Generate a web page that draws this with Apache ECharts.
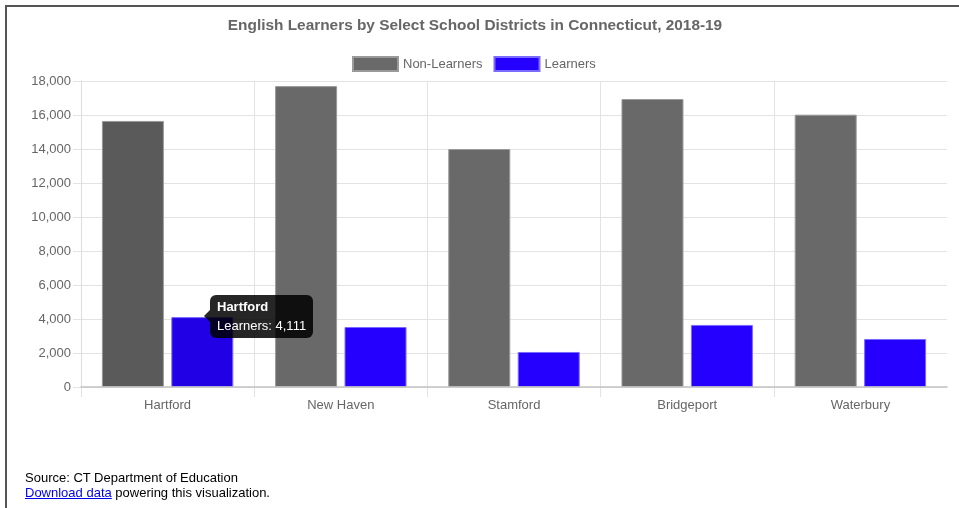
<!DOCTYPE html>
<html>
<head>
<meta charset="utf-8">
<script src="https://cdn.jsdelivr.net/npm/echarts@6/dist/echarts.min.js"></script>
<style>
  html, body { margin: 0; padding: 0; background: #fff; }
  body { width: 959px; height: 508px; position: relative; overflow: hidden; font-family: "Liberation Sans", Arial, Helvetica, sans-serif; }
  #chart { position: absolute; left: 0; top: 0; width: 959px; height: 508px; }
  #frame { position: absolute; left: 5px; top: 5px; width: 960px; height: 510px; border-top: 2px solid #555; border-left: 2px solid #555; pointer-events: none; }
  #source { position: absolute; left: 25px; top: 470px; font-size: 13px; line-height: 15px; color: #000; }
  #source a { color: #0000ee; text-decoration: underline; }
</style>
</head>
<body>
<div id="chart"></div>
<div id="frame"></div>
<div id="source">Source: CT Department of Education<br><a href="#">Download data</a> powering this visualization.</div>
<script>
const titleText = 'English Learners by Select School Districts in Connecticut, 2018-19';
const categories = ['Hartford', 'New Haven', 'Stamford', 'Bridgeport', 'Waterbury'];
const seriesNames = ['Non-Learners', 'Learners'];
const nonLearners = [15650, 17700, 14000, 16940, 16020];
const learners = [4111, 3530, 2060, 3650, 2825];
const yTicks = [0, 2000, 4000, 6000, 8000, 10000, 12000, 14000, 16000, 18000];

const FONT = '"Liberation Sans", Arial, Helvetica, sans-serif';
const fmt = v => String(v).replace(/\B(?=(\d{3})+(?!\d))/g, ',');

const chart = echarts.init(document.getElementById('chart'), null, { renderer: 'canvas' });

const grayColor = '#696969', grayHover = '#5a5a5a';
const blueColor = '#2600ff', blueHover = '#2200e6';
const gridColor = '#e3e3e3';

// helper boundary positions (one per category edge) used only for the vertical grid lines
const boundaries = categories.concat(['']);
const notLast = i => i < boundaries.length - 1;

const option = {
  animation: false,
  title: {
    text: titleText,
    left: 470,
    top: 13,
    textAlign: 'center',
    textStyle: { fontFamily: FONT, fontSize: 15.4, fontWeight: 'bold', color: '#666' }
  },
  legend: {
    left: 347,
    top: 51,
    icon: 'rect',
    itemWidth: 45,
    itemHeight: 14,
    itemGap: 11,
    textStyle: { fontFamily: FONT, fontSize: 13, color: '#666' },
    data: seriesNames
  },
  tooltip: {
    trigger: 'item',
    triggerOn: 'none',
    alwaysShowContent: true,
    transitionDuration: 0,
    backgroundColor: 'rgba(0,0,0,0.85)',
    borderWidth: 0,
    padding: [6, 7],
    extraCssText: 'box-shadow:none;border-radius:6px;overflow:visible;',
    formatter: p => '<div style="position:relative;font-family:' + FONT.replace(/"/g, "'") + ';color:#fff;">' +
      '<div style="position:absolute;left:-13px;top:50%;margin-top:-6px;width:0;height:0;border-top:6px solid transparent;border-bottom:6px solid transparent;border-right:6px solid rgba(0,0,0,0.85);"></div>' +
      '<div style="font-weight:bold;font-size:13px;line-height:13px;margin-top:-1px;margin-bottom:6px;">' + p.name + '</div>' +
      '<div style="font-size:13px;line-height:13px;">' + p.seriesName + ': ' + fmt(p.value) + '</div></div>',
    position: (point, params, dom, rect, size) => {
      return [rect.x + rect.width / 2 + 8, rect.y - size.contentSize[1] / 2 - 1];
    }
  },
  grid: { left: 81, right: 12, top: 81, bottom: 121, containLabel: false },
  xAxis: [
    {
      type: 'category',
      data: categories,
      axisLine: { show: true, lineStyle: { color: '#c4c4c4', width: 1.5 } },
      axisTick: { show: false },
      axisLabel: { fontFamily: FONT, fontSize: 13, color: '#666', margin: 12 },
      splitLine: { show: false },
      z: 3
    },
    {
      type: 'category',
      data: boundaries,
      boundaryGap: false,
      position: 'bottom',
      axisLine: { show: false },
      axisLabel: { show: false },
      axisPointer: { show: false },
      axisTick: { show: true, interval: (i) => notLast(i), length: 10, lineStyle: { color: gridColor } },
      splitLine: { show: true, interval: (i) => notLast(i), lineStyle: { color: gridColor } }
    }
  ],
  yAxis: {
    type: 'value',
    min: 0,
    max: 18000,
    interval: 2000,
    axisLine: { show: true, lineStyle: { color: '#dcdcdc' } },
    axisTick: { show: true, length: 8, lineStyle: { color: gridColor } },
    axisLabel: { fontFamily: FONT, fontSize: 13, color: '#666', margin: 10, formatter: v => fmt(v) },
    splitLine: { show: true, lineStyle: { color: gridColor } }
  },
  series: [
    {
      name: seriesNames[0],
      type: 'bar',
      xAxisIndex: 0,
      barWidth: 62,
      barGap: '12%',
      itemStyle: { color: grayColor, borderColor: '#9a9a9a', borderWidth: 1 },
      data: nonLearners.map((v, i) => i === 0 ? { value: v, itemStyle: { color: grayHover } } : v)
    },
    {
      name: seriesNames[1],
      type: 'bar',
      xAxisIndex: 0,
      barWidth: 62,
      barGap: '12%',
      itemStyle: { color: blueColor, borderColor: '#7a6bff', borderWidth: 1 },
      data: learners.map((v, i) => i === 0 ? { value: v, itemStyle: { color: blueHover } } : v)
    }
  ]
};

chart.setOption(option);
chart.dispatchAction({ type: 'showTip', seriesIndex: 1, dataIndex: 0 });
</script>
</body>
</html>
